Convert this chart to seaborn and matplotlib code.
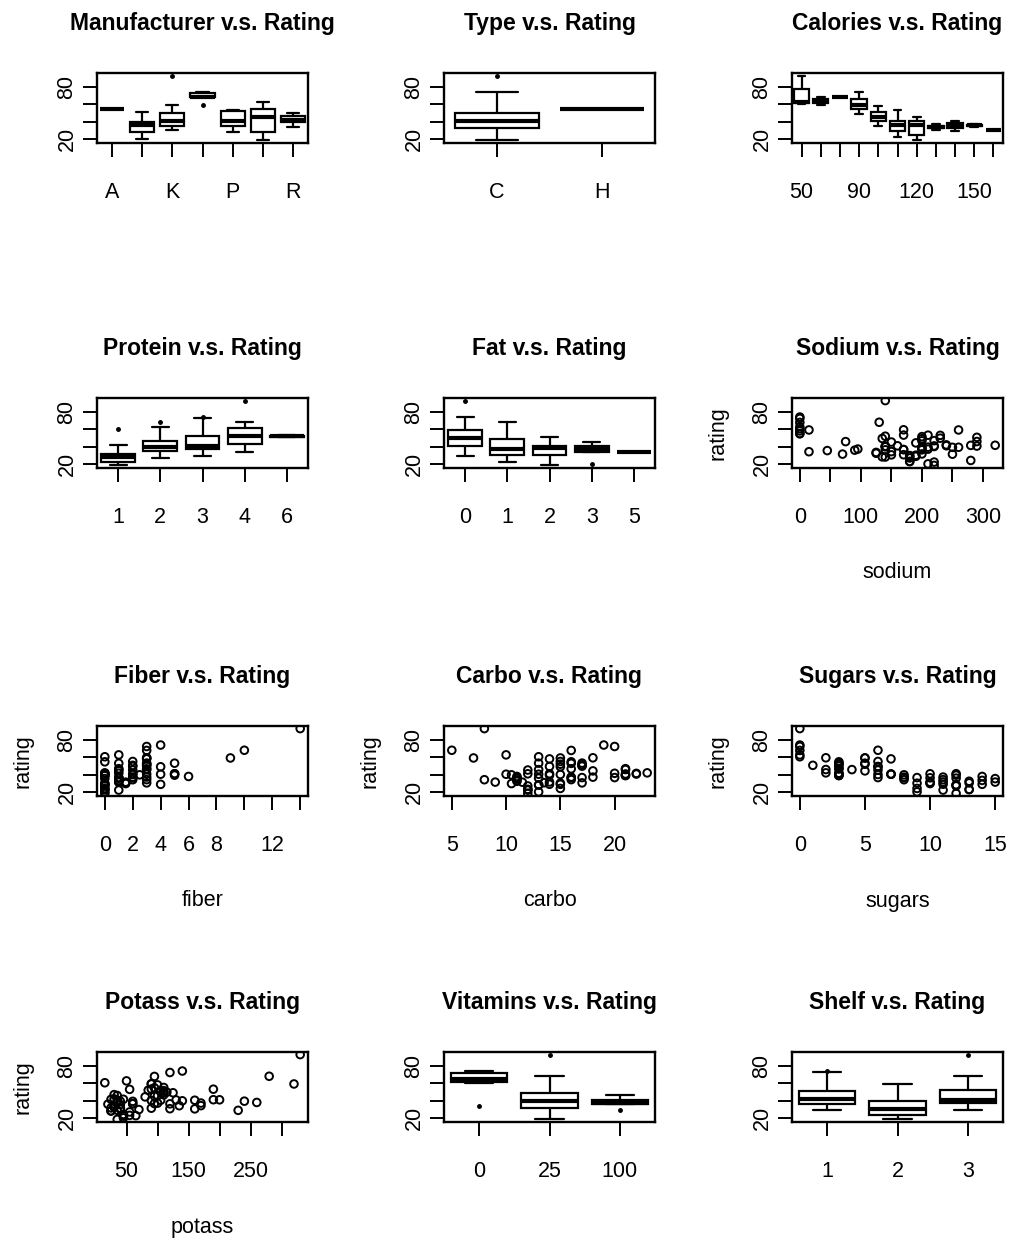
"""Cereal ratings vs. each nutrition variable, R base-graphics look."""

import matplotlib
matplotlib.use("Agg")
import matplotlib.pyplot as plt
import pandas as pd
import seaborn as sns

# ---- data (74 cereals, rows with missing values dropped) ----
mfr = ["N", "Q", "K", "K", "G", "K", "G", "R", "P", "Q", "G", "G", "G", "G", "R",
       "K", "K", "G", "K", "K", "G", "R", "K", "K", "K", "P", "K", "P", "P", "G",
       "P", "P", "P", "Q", "G", "P", "K", "K", "G", "Q", "G", "A", "R", "R", "K",
       "G", "K", "K", "K", "G", "P", "K", "Q", "Q", "Q", "K", "G", "K", "R", "K",
       "N", "N", "N", "K", "K", "N", "G", "G", "G", "G", "G", "R", "G", "G"]
ctype = ["C"] * 41 + ["H"] + ["C"] * 32
calories = [70, 120, 70, 50, 110, 110, 130, 90, 90, 120, 110, 120, 110, 110, 110,
            100, 110, 110, 110, 110, 100, 100, 110, 110, 100, 120, 120, 110, 100, 110,
            100, 110, 120, 120, 110, 110, 110, 140, 110, 100, 110, 100, 150, 150, 160,
            100, 120, 140, 90, 130, 120, 100, 50, 50, 100, 120, 100, 90, 110, 110,
            80, 90, 90, 110, 110, 90, 110, 140, 100, 110, 110, 100, 100, 110]
protein = [4, 3, 4, 4, 2, 2, 3, 2, 3, 1, 6, 1, 3, 1, 2,
           2, 1, 1, 3, 2, 2, 2, 2, 1, 3, 3, 3, 1, 2, 1,
           3, 3, 3, 1, 3, 1, 2, 3, 2, 4, 2, 4, 4, 4, 3,
           2, 2, 3, 3, 3, 3, 3, 1, 2, 4, 3, 3, 2, 1, 2,
           2, 3, 3, 2, 6, 2, 2, 3, 3, 2, 1, 3, 3, 2]
fat = [1, 5, 1, 0, 2, 0, 2, 1, 0, 2, 2, 3, 2, 1, 0,
       0, 0, 1, 3, 0, 1, 0, 1, 0, 0, 2, 0, 1, 0, 1,
       1, 0, 3, 2, 1, 0, 1, 1, 1, 2, 1, 1, 3, 3, 2,
       1, 1, 2, 0, 2, 1, 0, 0, 0, 1, 1, 2, 0, 0, 0,
       0, 0, 0, 1, 0, 0, 1, 1, 1, 1, 1, 1, 1, 1]
sodium = [130, 15, 260, 140, 180, 125, 210, 200, 210, 220, 290, 210, 140, 180, 280,
          290, 90, 180, 140, 220, 140, 190, 125, 200, 0, 160, 240, 135, 45, 280,
          140, 170, 75, 220, 250, 180, 170, 170, 260, 150, 180, 0, 95, 150, 150,
          220, 190, 220, 170, 170, 200, 320, 0, 0, 135, 210, 140, 0, 240, 290,
          0, 0, 0, 70, 230, 15, 200, 190, 200, 250, 140, 230, 200, 200]
fiber = [10, 2, 9, 14, 1.5, 1, 2, 4, 5, 0, 2, 0, 2, 0, 0,
         1, 1, 0, 4, 1, 2, 1, 1, 1, 3, 5, 5, 0, 0, 0,
         3, 3, 3, 1, 1.5, 0, 1, 2, 0, 2, 0, 0, 3, 3, 3,
         2, 0, 3, 3, 1.5, 6, 1, 0, 1, 2, 5, 2.5, 2, 0, 0,
         3, 4, 3, 1, 1, 3, 0, 4, 3, 0, 0, 3, 3, 1]
carbo = [5, 8, 7, 8, 10.5, 11, 18, 15, 13, 12, 17, 13, 13, 12, 22,
         21, 13, 12, 10, 21, 11, 18, 11, 14, 14, 12, 14, 13, 11, 15,
         15, 17, 13, 12, 11.5, 14, 17, 20, 21, 12, 12, 16, 16, 16, 17,
         15, 15, 21, 18, 13.5, 11, 20, 13, 10, 14, 14, 10.5, 15, 23, 22,
         16, 19, 20, 9, 16, 15, 21, 15, 16, 21, 13, 17, 17, 16]
sugars = [6, 8, 5, 0, 10, 14, 8, 6, 5, 12, 1, 9, 7, 13, 3,
          2, 12, 13, 7, 3, 10, 5, 13, 11, 7, 10, 12, 12, 15, 9,
          5, 3, 4, 11, 10, 11, 6, 9, 3, 6, 12, 3, 11, 11, 13,
          6, 9, 7, 2, 10, 14, 3, 0, 0, 6, 12, 8, 6, 2, 3,
          0, 0, 0, 15, 3, 5, 3, 14, 3, 3, 12, 3, 3, 8]
potass = [280, 135, 320, 330, 70, 30, 100, 125, 190, 35, 105, 45, 105, 55, 25,
          35, 20, 65, 160, 30, 120, 80, 30, 25, 100, 200, 190, 25, 40, 45,
          85, 90, 100, 45, 90, 35, 60, 95, 40, 95, 55, 95, 170, 170, 160,
          90, 40, 130, 90, 120, 260, 45, 15, 50, 110, 240, 140, 110, 30, 35,
          95, 140, 120, 40, 55, 90, 35, 230, 110, 60, 25, 115, 110, 60]
vitamins = [25, 0, 25, 25, 25, 25, 25, 25, 25, 25, 25, 25, 25, 25, 25,
            25, 25, 25, 25, 25, 25, 25, 25, 25, 25, 25, 25, 25, 25, 25,
            25, 25, 25, 25, 25, 25, 100, 100, 25, 25, 25, 25, 25, 25, 25,
            25, 25, 25, 25, 25, 25, 100, 0, 0, 25, 25, 25, 25, 25, 25,
            0, 0, 0, 25, 25, 25, 100, 100, 100, 25, 25, 25, 25, 25]
shelf = [3, 3, 3, 3, 1, 2, 3, 1, 3, 2, 1, 2, 3, 2, 1,
         1, 2, 2, 3, 3, 3, 3, 2, 1, 2, 3, 3, 2, 1, 2,
         3, 3, 3, 2, 1, 1, 3, 3, 2, 2, 2, 2, 3, 3, 3,
         1, 2, 3, 3, 3, 3, 3, 3, 3, 3, 2, 3, 3, 1, 1,
         1, 1, 1, 2, 1, 2, 3, 3, 3, 3, 2, 1, 1, 1]
rating = [68.4, 34.0, 59.4, 93.7, 29.5, 33.2, 37.0, 49.1, 53.3, 18.0, 50.8, 19.8, 40.4, 22.7, 41.4,
          45.9, 35.8, 22.4, 40.4, 46.9, 36.2, 44.3, 32.2, 31.4, 58.3, 40.9, 41.0, 28.0, 35.3, 23.8,
          52.1, 53.4, 45.8, 21.9, 31.1, 28.7, 36.5, 36.5, 39.2, 45.3, 26.7, 54.9, 37.1, 34.1, 30.3,
          40.1, 29.9, 40.7, 59.6, 30.5, 37.8, 41.5, 60.8, 63.0, 49.5, 39.3, 39.7, 55.3, 42.0, 40.6,
          68.2, 74.5, 72.8, 31.2, 53.1, 59.4, 38.8, 28.6, 46.7, 39.1, 27.8, 49.8, 51.6, 36.2]

mfr_order = ["A", "G", "K", "N", "P", "Q", "R"]
mfr_labels = ["A", "", "K", "", "P", "", "R"]
cal_labels = ["50", "", "", "90", "", "", "120", "", "", "150", ""]

df = pd.DataFrame({
    "mfr": mfr, "type": ctype, "calories": calories, "protein": protein,
    "fat": fat, "sodium": sodium, "fiber": fiber, "carbo": carbo,
    "sugars": sugars, "potass": potass, "vitamins": vitamins,
    "shelf": shelf, "rating": rating,
})

sns.set_theme(style="white")
plt.rcParams["font.family"] = ["Liberation Sans Narrow", "Liberation Sans", "DejaVu Sans"]
plt.rcParams["text.color"] = "black"
plt.rcParams["axes.labelcolor"] = "black"
plt.rcParams["axes.titlecolor"] = "black"

W, H = 1014, 1239
fig = plt.figure(figsize=(W / 100, H / 100), dpi=100)
lefts = [97, 444, 792]
tops = [73, 398, 726, 1052]
aw, ah = 211, 70

ymin, ymax = min(rating), max(rating)
yr = ymax - ymin
ylim = (ymin - 0.04 * yr, ymax + 0.04 * yr)


def make_ax(row, col):
    return fig.add_axes([lefts[col] / W, 1 - (tops[row] + ah) / H, aw / W, ah / H])


def style(ax, title):
    ax.set_ylim(*ylim)
    ax.set_yticks([20, 40, 60, 80])
    ax.set_yticklabels(["20", "", "", "80"], rotation=90, va="center")
    ax.tick_params(axis="both", direction="out", length=10, width=1.4,
                   color="black", labelsize=15.5, labelcolor="black",
                   bottom=True, left=True)
    ax.tick_params(axis="y", pad=4)
    ax.tick_params(axis="x", pad=18)
    for sp in ax.spines.values():
        sp.set_visible(True)
        sp.set_color("black")
        sp.set_linewidth(1.7)
    ax.set_title(title, fontsize=16.5, fontweight="bold", pad=31, color="black")
    ax.set_xlabel("")
    ax.set_ylabel("")


def box_panel(row, col, var, title, order=None, labels=None):
    ax = make_ax(row, col)
    sns.boxplot(data=df, x=var, y="rating", order=order, ax=ax, color="white",
                linecolor="black", linewidth=1.6, width=0.8, fliersize=3,
                medianprops={"linewidth": 3},
                flierprops={"marker": "o", "markerfacecolor": "black",
                            "markeredgecolor": "black", "markersize": 2.5})
    style(ax, title)
    if labels is not None:
        ax.set_xticks(range(len(labels)))
        ax.set_xticklabels(labels)
    return ax


def scatter_panel(row, col, var, title, ticks, labels):
    ax = make_ax(row, col)
    sub = df[["rating", var]]
    sns.scatterplot(data=sub, x=var, y="rating", ax=ax, marker="o", s=30,
                    facecolor="none", edgecolor="black", linewidth=1.4)
    lo, hi = sub[var].min(), sub[var].max()
    ax.set_xlim(lo - 0.04 * (hi - lo), hi + 0.04 * (hi - lo))
    style(ax, title)
    ax.set_xticks(ticks)
    ax.set_xticklabels(labels)
    ax.set_xlabel(var, fontsize=15.5, color="black")
    ax.xaxis.set_label_coords(0.5, -105 / ah)
    ax.xaxis.label.set_va("center")
    ax.set_ylabel("rating", fontsize=15.5, color="black")
    ax.yaxis.set_label_coords(-74 / aw, 0.5)
    ax.yaxis.label.set_va("center")
    return ax


box_panel(0, 0, "mfr", "Manufacturer v.s. Rating", order=mfr_order, labels=mfr_labels)
box_panel(0, 1, "type", "Type v.s. Rating", order=["C", "H"])
box_panel(0, 2, "calories", "Calories v.s. Rating", labels=cal_labels)
box_panel(1, 0, "protein", "Protein v.s. Rating")
box_panel(1, 1, "fat", "Fat v.s. Rating")
scatter_panel(1, 2, "sodium", "Sodium v.s. Rating",
              [0, 50, 100, 150, 200, 250, 300], ["0", "", "100", "", "200", "", "300"])
scatter_panel(2, 0, "fiber", "Fiber v.s. Rating",
              [0, 2, 4, 6, 8, 10, 12, 14], ["0", "2", "4", "6", "8", "", "12", ""])
scatter_panel(2, 1, "carbo", "Carbo v.s. Rating", [5, 10, 15, 20], ["5", "10", "15", "20"])
scatter_panel(2, 2, "sugars", "Sugars v.s. Rating", [0, 5, 10, 15], ["0", "5", "10", "15"])
scatter_panel(3, 0, "potass", "Potass v.s. Rating",
              [50, 100, 150, 200, 250, 300], ["50", "", "150", "", "250", ""])
box_panel(3, 1, "vitamins", "Vitamins v.s. Rating")
box_panel(3, 2, "shelf", "Shelf v.s. Rating")

fig.savefig("out.png", dpi=100, facecolor="white")
